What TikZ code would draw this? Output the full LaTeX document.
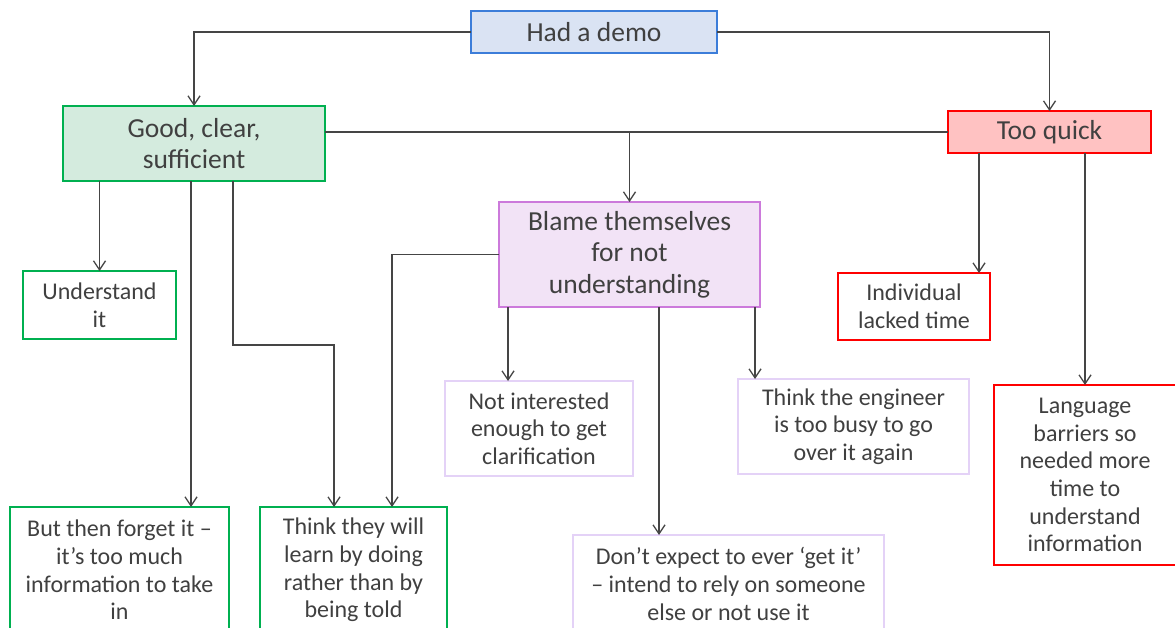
\documentclass[tikz,border=0pt]{standalone}
\usepackage{fontspec}
\setmainfont{Carlito}
\usetikzlibrary{arrows.meta}
\definecolor{txt}{HTML}{404040}
\definecolor{lnc}{HTML}{454545}
\definecolor{bluedr}{HTML}{3C7DD9}
\definecolor{bluefl}{HTML}{DAE3F3}
\definecolor{greendr}{HTML}{00B050}
\definecolor{greenfl}{HTML}{D4EBDE}
\definecolor{reddr}{HTML}{FF0000}
\definecolor{redfl}{HTML}{FFC2C2}
\definecolor{purpdr}{HTML}{CC7ADB}
\definecolor{purpfl}{HTML}{F2E3F6}
\definecolor{lpurpdr}{HTML}{E4D2F7}
\tikzset{
  box/.style={draw, line width=2.8pt, align=center, text=txt, inner sep=0pt, outer sep=0pt},
  bigtxt/.style={font=\fontsize{27.5}{31.5}\selectfont},
  smalltxt/.style={font=\fontsize{24}{27.7}\selectfont},
  bluebox/.style={box, bigtxt, draw=bluedr, fill=bluefl},
  greenhead/.style={box, bigtxt, draw=greendr, fill=greenfl},
  redhead/.style={box, bigtxt, draw=reddr, fill=redfl},
  purphead/.style={box, bigtxt, draw=purpdr, fill=purpfl},
  greenbox/.style={box, smalltxt, draw=greendr, fill=white},
  redbox/.style={box, smalltxt, draw=reddr, fill=white},
  lpurpbox/.style={box, smalltxt, draw=lpurpdr, fill=white, line width=2.2pt},
  conn/.style={draw=lnc, line width=1.3pt},
  arr/.style={conn, -{Straight Barb[length=9pt,width=12pt,line width=1.3pt]}}
}
\begin{document}
\begin{tikzpicture}[x=1pt,y=-1pt]
\clip (0,0) rectangle (1175,628);
\useasboundingbox (0,0) rectangle (1175,628);
\fill[white] (0,0) rectangle (1175,628);

% head nodes
\node[bluebox, minimum width=246pt, minimum height=42pt] (demo) at (594,32) {Had a demo};
\node[greenhead, minimum width=262pt, minimum height=75pt] (good) at (194,143.5) {Good, clear,\\sufficient};
\node[redhead, minimum width=203pt, minimum height=42pt] (too) at (1049.5,132) {Too quick};
\node[purphead, minimum width=261pt, minimum height=105pt] (blame) at (629.5,254.5) {Blame themselves\\for not\\understanding};

% leaf nodes
\node[greenbox, minimum width=153pt, minimum height=68pt] (under) at (99.5,305) {Understand\\it};
\node[redbox, minimum width=152pt, minimum height=67pt] (indiv) at (914,306.5) {Individual\\lacked time};
\node[lpurpbox, minimum width=188pt, minimum height=95pt] (notint) at (539,428.5) {Not interested\\enough to get\\clarification};
\node[lpurpbox, minimum width=231pt, minimum height=95pt] (eng) at (853.5,426.5) {Think the engineer\\is too busy to go\\over it again};
\node[redbox, minimum width=182pt, minimum height=180pt] (lang) at (1085,475) {Language\\barriers so\\needed more\\time to\\understand\\information};
\node[greenbox, minimum width=219pt, minimum height=126pt] (forget) at (119.5,570) {But then forget it --\\it’s too much\\information to take\\in};
\node[greenbox, minimum width=187pt, minimum height=126pt] (learn) at (353.5,570) {Think they will\\learn by doing\\rather than by\\being told};
\node[lpurpbox, minimum width=311pt, minimum height=98pt] (dont) at (728.5,584) {Don’t expect to ever ‘get it’\\-- intend to rely on someone\\else or not use it};

% connectors
\draw[arr] (demo.west) -| (good.north);
\draw[arr] (demo.east) -| (too.north);
\draw[conn] (good.east |- too.west) -- (too.west);
\draw[arr] (blame.north |- too.west) -- (blame.north);

\draw[arr] (good.south -| under.north) -- (under.north);
\draw[arr] ([xshift=-3pt]good.south) -- ([xshift=-3pt]good.south |- forget.north);
\draw[arr] ([xshift=39pt]good.south) -- ++(0,164) -| ([xshift=-19.5pt]learn.north);
\draw[arr] (blame.west) -| ([xshift=38.5pt]learn.north);

\draw[arr] ([xshift=-31pt]notint.north |- blame.south) -- ([xshift=-31pt]notint.north);
\draw[arr] ([xshift=-69.5pt]dont.north |- blame.south) -- ([xshift=-69.5pt]dont.north);
\draw[arr] ([xshift=-98.5pt]eng.north |- blame.south) -- ([xshift=-98.5pt]eng.north);

\draw[arr] ([xshift=65pt]indiv.north |- too.south) -- ([xshift=65pt]indiv.north);
\draw[arr] (lang.north |- too.south) -- (lang.north);
\end{tikzpicture}
\end{document}
